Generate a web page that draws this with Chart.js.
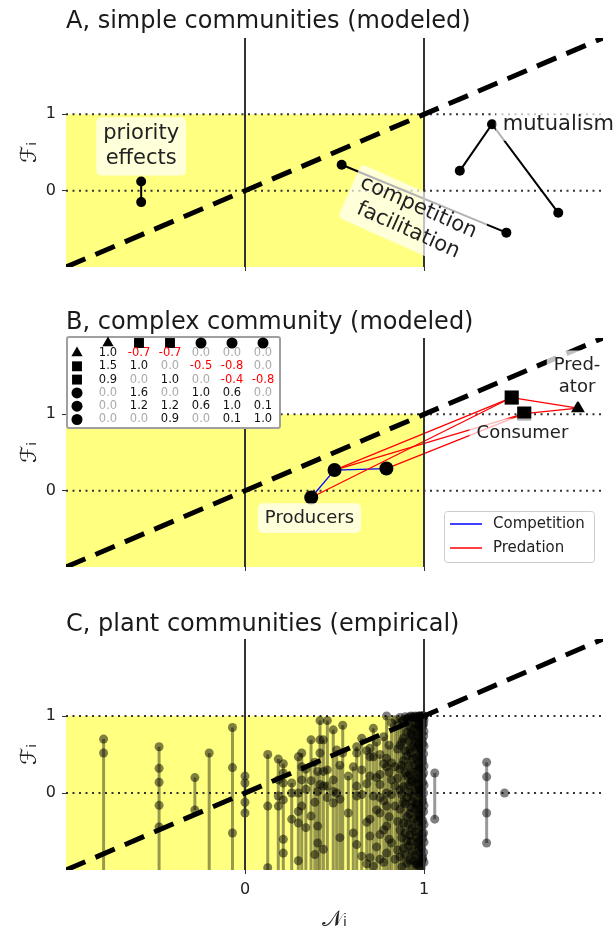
<!DOCTYPE html>
<html>
<head>
<meta charset="utf-8">
<script src="https://cdn.jsdelivr.net/npm/chart.js@4.4.1/dist/chart.umd.min.js"></script>
<style>
  body { margin: 0; background: #fff; width: 616px; height: 936px; position: relative; overflow: hidden; }
  canvas { position: absolute; left: 0; }
</style>
</head>
<body>
<canvas id="chartA" width="616" height="300" style="top:0"></canvas>
<canvas id="chartB" width="616" height="300" style="top:300px"></canvas>
<canvas id="chartC" width="616" height="336" style="top:600px"></canvas>
<script>
// axes
const axisRange = [-1, 2];
const xTicks = [0, 1];
const yTicks = [0, 1];

// A, simple communities
const priorityN = [-0.58, -0.58];
const priorityF = [0.12, -0.15];
const competitionN = [0.54, 1.46];
const competitionF = [0.34, -0.55];
const mutualismN = [1.20, 1.38, 1.75];
const mutualismF = [0.26, 0.87, -0.29];

// B, complex community (predator, 2 consumers, 3 producers)
const speciesN = [1.86, 1.56, 1.49, 0.79, 0.50, 0.37];
const speciesF = [1.08, 1.01, 1.22, 0.29, 0.27, -0.09];
const speciesShape = ['triangle', 'rect', 'rect', 'circle', 'circle', 'circle'];
const interactions = [
    [1.0, -0.7, -0.7, 0.0, 0.0, 0.0],
    [1.5, 1.0, 0.0, -0.5, -0.8, 0.0],
    [0.9, 0.0, 1.0, 0.0, -0.4, -0.8],
    [0.0, 1.6, 0.0, 1.0, 0.6, 0.0],
    [0.0, 1.2, 1.2, 0.6, 1.0, 0.1],
    [0.0, 0.0, 0.9, 0.0, 0.1, 1.0]
];

// C, plant communities: one N per community column, F of its species
// (-1.3 = species below the visible range)
const plantN = [
    -0.79, -0.48, -0.28, -0.20, -0.07, 0.0, 0.127, 0.186, 0.214, 0.261,
    0.298, 0.317, 0.34, 0.369, 0.39, 0.406, 0.419, 0.438, 0.46, 0.493,
    0.512, 0.53, 0.546, 0.577, 0.605, 0.624, 0.652, 0.68, 0.698, 0.717,
    0.735, 0.754, 0.775, 0.791, 0.805, 0.819, 0.838, 0.852, 0.866, 0.876,
    0.885, 0.895, 0.905, 0.913, 0.92, 0.928, 0.935, 0.943, 0.95, 0.956,
    0.962, 0.969, 0.975, 0.98, 0.985, 0.99, 0.993, 0.998, 1.0, 1.06,
    1.35, 1.45
];
const plantF = [
    [0.70, 0.52, -1.3], [0.60, 0.32, 0.14, -0.16, -0.44, -1.3], [0.20, -0.22], [0.52, -1.3],
    [0.85, 0.33, -0.52, -1.3], [0.22, 0.13, -0.12, -0.26], [0.50, -0.17, -0.97, -1.3],
    [0.44, 0.17, -0.04, -0.17, -1.3], [0.38, 0.26, 0.13, -0.09, -0.60, -0.78, -1.3],
    [0.13, 0.0, -0.34, -1.3], [0.47, 0.0, -0.24, -0.39, -0.88, -1.3],
    [0.52, 0.34, 0.17, -0.17, -1.3], [0.31, 0.05, -0.45, -1.3], [0.69, 0.16, -0.30, -1.3],
    [0.40, -0.12, -0.80, -1.3], [0.28, 0.02, -0.43, -0.65, -1.3],
    [0.94, 0.69, 0.52, 0.11, -1.3], [0.69, 0.28, 0.09, -0.73, -1.3], [0.94, 0.30, 0.09, -0.06, -1.3],
    [0.82, 0.17, 0.02, -0.13, -1.3], [0.56, 0.0, -1.3], [0.36, -0.08, -0.58, -1.3],
    [0.88, 0.52, -1.3], [0.22, -0.26, -1.3],
    [0.34, -0.52, -1.3], [0.60, 0.52, 0.09, -0.04, -0.67, -1.3], [0.71, 0.30, -0.02, -0.82, -1.3],
    [0.55, 0.12, -0.38, -0.92, -1.3],
    [0.58, 0.47, 0.22, -0.34, -0.56, -0.84, -1.3], [0.84, 0.47, -0.04, -0.95, -1.3],
    [0.66, 0.20, -0.22, -0.70, -1.3],
    [0.50, 0.24, 0.11, -0.06, -0.26, -0.54, -0.86, -1.3], [0.73, 0.38, -0.10, -0.48, -0.90, -1.3],
    [1.0, 0.45, 0.34, 0.0, -0.17, -0.43, -0.78, -1.3], [0.62, 0.27, -0.31, -0.60, -1.3],
    [0.91, 0.39, 0.17, -0.02, -0.65, -1.3], [0.95, 0.34, 0.09, -0.17, -0.86, -1.3],
    [0.88, 0.57, 0.19, -0.37, -0.74, -1.3],
    [0.98, 0.62, 0.31, 0.04, -0.21, -0.48, -0.83, -1.3], [0.93, 0.66, 0.36, -0.02, -0.58, -0.96, -1.3],
    [0.95, 0.71, 0.42, 0.08, -0.12, -0.39, -0.72, -1.3], [0.99, 0.55, 0.26, -0.14, -0.52, -0.80, -1.3],
    [0.97, 0.79, 0.48, 0.22, -0.06, -0.31, -0.62, -0.91, -1.3], [0.96, 0.68, 0.35, 0.10, -0.41, -0.69, -1.3],
    [0.99, 0.86, 0.57, 0.24, 0.01, -0.27, -0.55, -0.87, -1.3], [1.0, 0.77, 0.52, 0.14, -0.19, -0.63, -1.3],
    [0.98, 0.74, 0.44, 0.16, -0.11, -0.46, -0.76, -1.3], [0.99, 0.83, 0.61, 0.27, -0.05, -0.34, -0.88, -1.3],
    [1.0, 0.9, 0.66, 0.36, 0.04, -0.21, -0.5, -0.81, -1.3], [0.97, 0.72, 0.46, 0.18, -0.15, -0.57, -0.93, -1.3],
    [0.99, 0.81, 0.59, 0.29, 0.12, -0.14, -0.37, -0.66, -0.92, -1.3], [1.0, 0.88, 0.63, 0.39, 0.07, -0.26, -0.7, -1.3],
    [1.0, 0.92, 0.71, 0.49, 0.19, 0.0, -0.29, -0.61, -0.95, -1.3], [0.99, 0.84, 0.58, 0.33, 0.03, -0.33, -0.78, -1.3],
    [1.0, 0.95, 0.79, 0.55, 0.32, 0.05, -0.21, -0.44, -0.71, -0.9, -1.3], [1.0, 0.89, 0.69, 0.45, 0.22, -0.07, -0.53, -0.86, -1.3],
    [1.0, 0.97, 0.86, 0.64, 0.41, 0.14, -0.11, -0.36, -0.59, -0.84, -1.3],
    [1.0, 0.9, 0.74, 0.51, 0.26, 0.0, -0.24, -0.52, -0.77, -1.3], [1.0, 0.95, 0.8, 0.61, 0.35, 0.1, -0.16, -0.41, -0.64, -0.9, -1.3],
    [0.26, -0.34], [0.40, 0.21, -0.26, -0.65], [0.0]
];

const FONT = '"DejaVu Sans", sans-serif';
const yellow = '#ffff80';
const competitionColor = 'blue';
const predationColor = 'red';

const pts = (xs, ys) => xs.map((x, i) => ({x: x, y: ys[i]}));

function refLines() {
    const lo = axisRange[0], hi = axisRange[1];
    return [
        {data: [{x: lo, y: 1}, {x: 1, y: 1}], fill: {value: lo}, backgroundColor: yellow,
         borderWidth: 0, pointRadius: 0, order: 100},
        ...yTicks.map(v => ({data: [{x: lo, y: v}, {x: hi, y: v}], borderColor: '#333', borderWidth: 2,
            borderDash: [2, 4.5], pointRadius: 0, order: 90})),
        ...xTicks.map(v => ({data: [{x: v, y: lo}, {x: v, y: hi}], borderColor: '#333', borderWidth: 2,
            pointRadius: 0, order: 5})),
        {data: [{x: lo, y: lo}, {x: hi, y: hi}], borderColor: '#000', borderWidth: 5,
         borderDash: [21, 11], pointRadius: 0, order: 1}
    ];
}

function drawNote(ctx, chart, n) {
    const px = chart.scales.x.getPixelForValue(n.x);
    const py = chart.scales.y.getPixelForValue(n.y);
    ctx.save();
    ctx.translate(px, py);
    ctx.rotate((n.rot || 0) * Math.PI / 180);
    ctx.font = n.size + 'px ' + FONT;
    const lh = n.size * 1.2;
    const w = Math.max(...n.lines.map(l => ctx.measureText(l).width));
    const h = lh * n.lines.length;
    const left = n.align === 'left';
    const x0 = left ? 0 : -w / 2;
    if (n.box) {
        ctx.fillStyle = n.box;
        ctx.beginPath();
        ctx.roundRect(x0 - 7, -h / 2 - 4, w + 14, h + 8, 5);
        ctx.fill();
    }
    ctx.fillStyle = '#222';
    ctx.textAlign = left ? 'left' : 'center';
    ctx.textBaseline = 'middle';
    n.lines.forEach((l, i) => ctx.fillText(l, 0, -h / 2 + lh * (i + 0.5)));
    ctx.restore();
}

function makeChart(id, cfg) {
    const plugin = {
        id: 'notes',
        afterDatasetsDraw(chart) {
            const ctx = chart.ctx;
            (cfg.notes || []).forEach(n => drawNote(ctx, chart, n));
            if (cfg.extra) cfg.extra(chart);
        },
        afterDraw(chart) {
            const ctx = chart.ctx;
            ctx.save();
            ctx.font = '24px ' + FONT;
            ctx.fillStyle = '#1a1a1a';
            ctx.textBaseline = 'alphabetic';
            ctx.fillText(cfg.title, chart.chartArea.left, cfg.titleY);
            ctx.restore();
        }
    };
    const tickFont = {size: 16, family: FONT};
    return new Chart(document.getElementById(id), {
        type: 'line',
        data: {datasets: refLines().concat(cfg.datasets)},
        options: {
            responsive: false,
            animation: false,
            devicePixelRatio: 1,
            layout: {padding: {top: cfg.top, right: 13, left: 0, bottom: 0}},
            plugins: {legend: {display: false}, tooltip: {enabled: false}},
            scales: {
                x: {
                    type: 'linear', min: axisRange[0], max: axisRange[1],
                    afterBuildTicks: s => { s.ticks = xTicks.map(v => ({value: v})); },
                    afterFit: s => { s.height = cfg.xh; },
                    grid: {drawOnChartArea: false, drawTicks: true, tickLength: 4, color: '#333'},
                    border: {display: false},
                    ticks: {color: cfg.showX ? '#222' : 'rgba(0,0,0,0)', font: tickFont, padding: 6},
                    title: {display: !!cfg.showX, text: '𝒩ᵢ', color: '#222',
                            font: {size: 22, family: FONT}, padding: {bottom: 3}}
                },
                y: {
                    type: 'linear', min: axisRange[0], max: axisRange[1],
                    afterBuildTicks: s => { s.ticks = yTicks.map(v => ({value: v})); },
                    afterFit: s => { s.width = 66; },
                    grid: {drawOnChartArea: false, drawTicks: true, tickLength: 4, color: '#333'},
                    border: {display: false},
                    ticks: {color: '#222', font: tickFont, padding: 6},
                    title: {display: true, text: 'ℱᵢ', color: '#222',
                            font: {size: 22, family: FONT}, padding: {top: 17}}
                }
            }
        },
        plugins: [plugin]
    });
}

// ---- A ----
const pairStyle = {showLine: true, borderColor: '#000', borderWidth: 2, pointRadius: 5,
    pointBackgroundColor: '#000', pointBorderWidth: 0, order: 10};
makeChart('chartA', {
    top: 38, xh: 33, titleY: 28, title: 'A, simple communities (modeled)',
    datasets: [
        Object.assign({data: pts(priorityN, priorityF)}, pairStyle),
        Object.assign({data: pts(competitionN, competitionF)}, pairStyle),
        Object.assign({data: pts(mutualismN, mutualismF)}, pairStyle)
    ],
    notes: [
        {lines: ['priority', 'effects'], x: -0.58, y: 0.58, size: 21, box: 'rgba(255,255,255,0.7)'},
        {lines: ['competition', 'facilitation'], x: 0.94, y: -0.37, size: 21, rot: 24, box: 'rgba(255,255,255,0.7)'},
        {lines: ['mutualism'], x: 1.44, y: 0.87, size: 21, align: 'left', box: 'rgba(255,255,255,0.7)'}
    ]
});

// ---- B ----
const edges = [];
for (let i = 0; i < speciesN.length; i++) {
    for (let j = i + 1; j < speciesN.length; j++) {
        const a = interactions[i][j], b = interactions[j][i];
        if (a === 0 && b === 0) continue;
        edges.push({
            data: [{x: speciesN[i], y: speciesF[i]}, {x: speciesN[j], y: speciesF[j]}],
            borderColor: (a < 0 || b < 0) ? predationColor : competitionColor,
            borderWidth: 1.3, pointRadius: 0, order: 12
        });
    }
}

function drawTable(chart) {
    const ctx = chart.ctx;
    const L = chart.chartArea.left + 1, T = chart.chartArea.top - 1;
    const colX = i => L + 41 + 31 * i;
    const rowY = i => T + 16 + 13.3 * i;
    ctx.save();
    ctx.fillStyle = '#fff';
    ctx.strokeStyle = '#a0a0a0';
    ctx.lineWidth = 2;
    ctx.beginPath();
    ctx.roundRect(L, T, 213, 91, 2);
    ctx.fill();
    ctx.stroke();
    const mark = (shape, x, y) => {
        ctx.fillStyle = '#000';
        Chart.helpers.drawPoint(ctx, {pointStyle: shape, radius: shape === 'rect' ? 7 : (shape === 'triangle' ? 6.5 : 5.5),
            rotation: 0, borderWidth: 0}, x, y);
    };
    speciesShape.forEach((s, i) => { mark(s, colX(i), T + 6); mark(s, L + 10, rowY(i)); });
    ctx.font = '11.5px ' + FONT;
    ctx.textAlign = 'center';
    ctx.textBaseline = 'middle';
    interactions.forEach((row, i) => row.forEach((v, j) => {
        ctx.fillStyle = v < 0 ? '#ff0000' : (v === 0 ? '#aaaaaa' : '#111');
        ctx.fillText(v.toFixed(1), colX(j), rowY(i));
    }));
    ctx.restore();
}

function drawLegend(chart) {
    const ctx = chart.ctx;
    const W = 150, H = 51;
    const L = chart.chartArea.right - 9 - W, T = chart.chartArea.bottom - 5 - H;
    ctx.save();
    ctx.fillStyle = 'rgba(255,255,255,0.8)';
    ctx.strokeStyle = '#cccccc';
    ctx.lineWidth = 1;
    ctx.beginPath();
    ctx.roundRect(L + 0.5, T + 0.5, W, H, 3);
    ctx.fill();
    ctx.stroke();
    ctx.font = '15px ' + FONT;
    ctx.textBaseline = 'middle';
    [['Competition', competitionColor], ['Predation', predationColor]].forEach((e, i) => {
        const y = T + 13 + 24 * i;
        ctx.strokeStyle = e[1];
        ctx.lineWidth = 1.5;
        ctx.beginPath();
        ctx.moveTo(L + 6, y);
        ctx.lineTo(L + 38, y);
        ctx.stroke();
        ctx.fillStyle = '#222';
        ctx.fillText(e[0], L + 49, y);
    });
    ctx.restore();
}

makeChart('chartB', {
    top: 38, xh: 33, titleY: 29, title: 'B, complex community (modeled)',
    datasets: edges.concat([
        {data: pts(speciesN, speciesF), showLine: false, pointStyle: speciesShape,
         pointRadius: speciesShape.map(s => s === 'rect' ? 10 : (s === 'triangle' ? 8 : 7)),
         pointBackgroundColor: '#000', pointBorderWidth: 0, order: 8}
    ]),
    notes: [
        {lines: ['Producers'], x: 0.36, y: -0.36, size: 18, box: 'rgba(255,255,255,0.7)'},
        {lines: ['Consumer'], x: 1.55, y: 0.75, size: 18, box: 'rgba(255,255,255,0.7)'},
        {lines: ['Pred-', 'ator'], x: 1.855, y: 1.5, size: 18, box: 'rgba(255,255,255,0.75)'}
    ],
    extra: chart => { drawTable(chart); drawLegend(chart); }
});

// ---- C ----
const stems = plantN.map((n, k) => ({
    data: plantF[k].map(f => ({x: n, y: f})),
    showLine: true, borderColor: 'rgba(0,0,0,0.4)', borderWidth: 3,
    pointRadius: 4.5, pointBackgroundColor: 'rgba(0,0,0,0.5)', pointBorderWidth: 0, order: 10
}));
makeChart('chartC', {
    top: 39, xh: 66, titleY: 31, title: 'C, plant communities (empirical)', showX: true,
    datasets: stems
});
</script>
</body>
</html>
